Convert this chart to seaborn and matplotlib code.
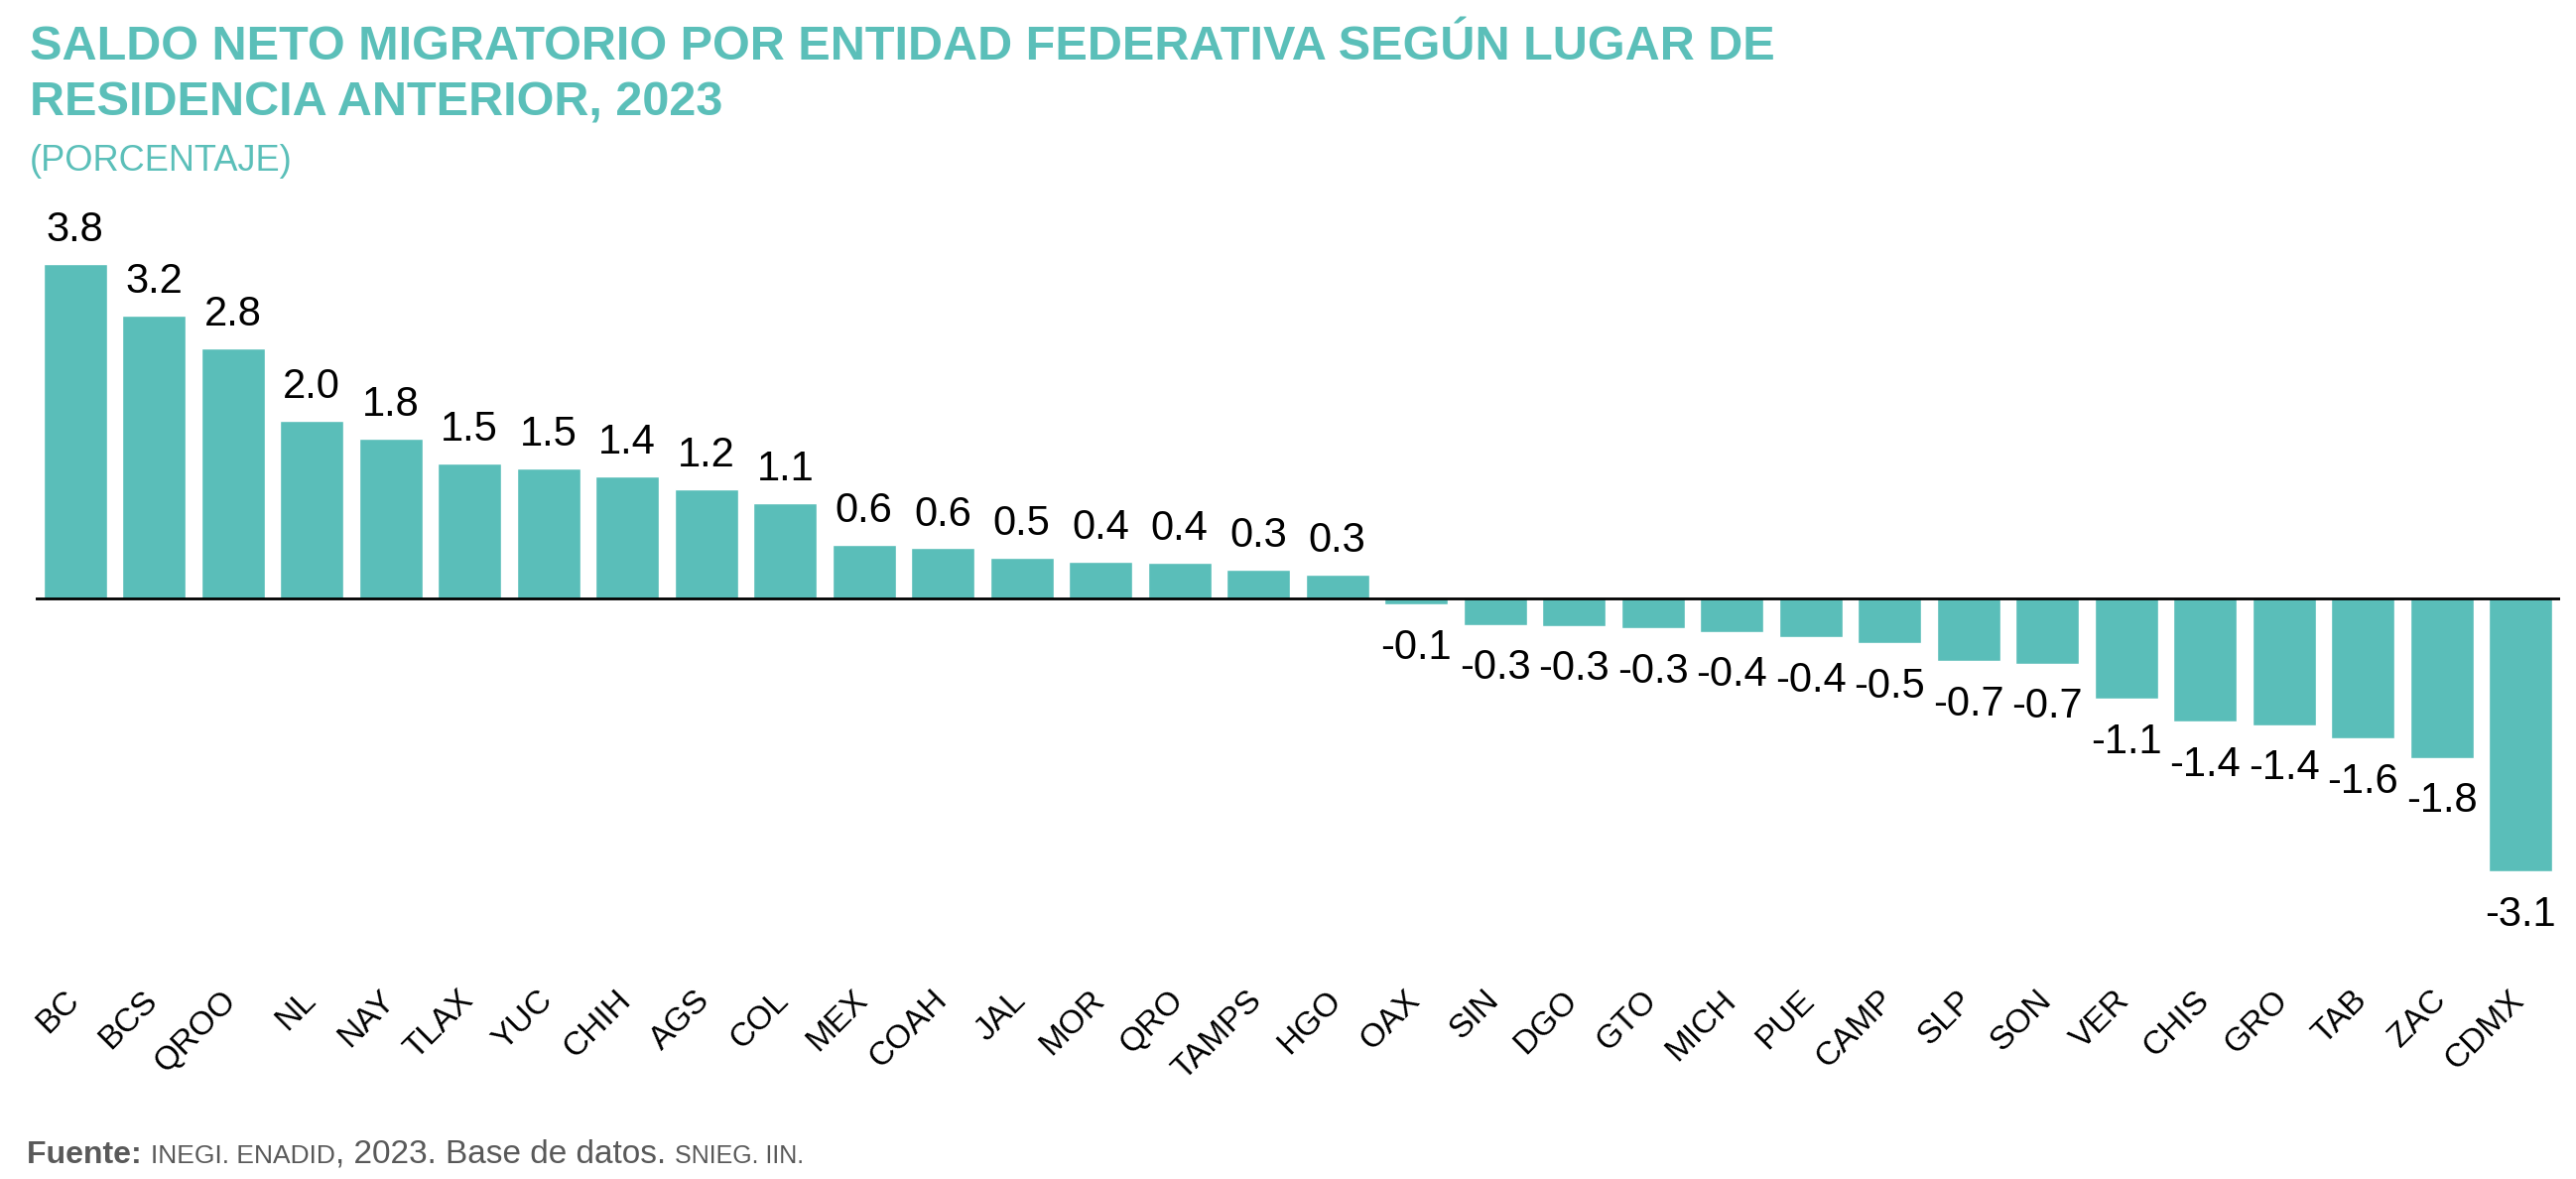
import matplotlib
matplotlib.use('Agg')
import matplotlib.pyplot as plt
import matplotlib.transforms as mtransforms
import seaborn as sns
import pandas as pd

# ---- data ----
states = ["BC", "BCS", "QROO", "NL", "NAY", "TLAX", "YUC", "CHIH", "AGS", "COL",
          "MEX", "COAH", "JAL", "MOR", "QRO", "TAMPS", "HGO", "OAX", "SIN", "DGO",
          "GTO", "MICH", "PUE", "CAMP", "SLP", "SON", "VER", "CHIS", "GRO", "TAB",
          "ZAC", "CDMX"]
values = [3.80, 3.21, 2.84, 2.02, 1.82, 1.53, 1.48, 1.39, 1.24, 1.08,
          0.61, 0.57, 0.46, 0.42, 0.41, 0.33, 0.27, -0.07, -0.30, -0.31,
          -0.34, -0.38, -0.44, -0.51, -0.71, -0.74, -1.14, -1.40, -1.44, -1.59,
          -1.81, -3.10]

title_lines = ["SALDO NETO MIGRATORIO POR ENTIDAD FEDERATIVA SEGÚN LUGAR DE",
               "RESIDENCIA ANTERIOR, 2023"]
subtitle = "(PORCENTAJE)"

sns.set_theme(style='white')
plt.rcParams['font.family'] = ['Liberation Sans', 'DejaVu Sans']

BAR = '#5ABEB9'
TEAL = '#5BBFB9'
GRAY = '#595959'

W, H = 2596, 1188
fig = plt.figure(figsize=(W / 100, H / 100), dpi=100)
ax = fig.add_axes([36 / W, 0.1564, (2580 - 36) / W, 0.6571])

df = pd.DataFrame({'estado': states, 'saldo': values})
sns.barplot(data=df, x='estado', y='saldo', color=BAR, saturation=1,
            width=0.8, ax=ax, errorbar=None)
ax.set_xlim(-0.5, 31.5)
ax.set_ylim(-4.5, 4.3)
ax.axhline(0, color='black', lw=2, zorder=3)
for s in ax.spines.values():
    s.set_visible(False)
ax.set_yticks([])
ax.set_xlabel('')
ax.set_ylabel('')
ax.set_xticks(range(len(states)))
ax.set_xticklabels(states, rotation=45, ha='right', va='baseline',
                   rotation_mode='anchor', fontsize=24, color='black')
ax.tick_params(axis='x', length=0, pad=5)
offset = mtransforms.ScaledTranslation(0.05, 0, fig.dpi_scale_trans)
for lbl in ax.get_xticklabels():
    lbl.set_transform(lbl.get_transform() + offset)

for p, v in zip(ax.patches, values):
    x = p.get_x() + p.get_width() / 2
    if v >= 0:
        ax.annotate(f"{v:.1f}", (x, v), xytext=(0, 16.5), textcoords='offset points',
                    ha='center', va='baseline', fontsize=30, color='black')
    else:
        ax.annotate(f"{v:.1f}", (x, v), xytext=(0, -17), textcoords='offset points',
                    ha='center', va='top', fontsize=30, color='black')

# ---- titles ----
fig.text(30 / W, 1 - 60 / H, title_lines[0], fontsize=35, fontweight='bold',
         color=TEAL, ha='left', va='baseline')
fig.text(30 / W, 1 - 117 / H, title_lines[1], fontsize=35, fontweight='bold',
         color=TEAL, ha='left', va='baseline')
fig.text(30 / W, 1 - 172 / H, subtitle, fontsize=26, color=TEAL,
         ha='left', va='baseline')

# ---- footer (chained pieces) ----
footer = [("Fuente: ", 23, 'bold'), ("INEGI. ENADID", 19, 'normal'),
          (", 2023. Base de datos. ", 24, 'normal'), ("SNIEG. IIN.", 18, 'normal')]
fig.canvas.draw()
renderer = fig.canvas.get_renderer()
xpos = 27
for txt, fs, fw in footer:
    t = fig.text(xpos / W, 1 - 1172 / H, txt, fontsize=fs, fontweight=fw,
                 color=GRAY, ha='left', va='baseline')
    xpos += t.get_window_extent(renderer=renderer).width

fig.savefig('out.png', dpi=100)
